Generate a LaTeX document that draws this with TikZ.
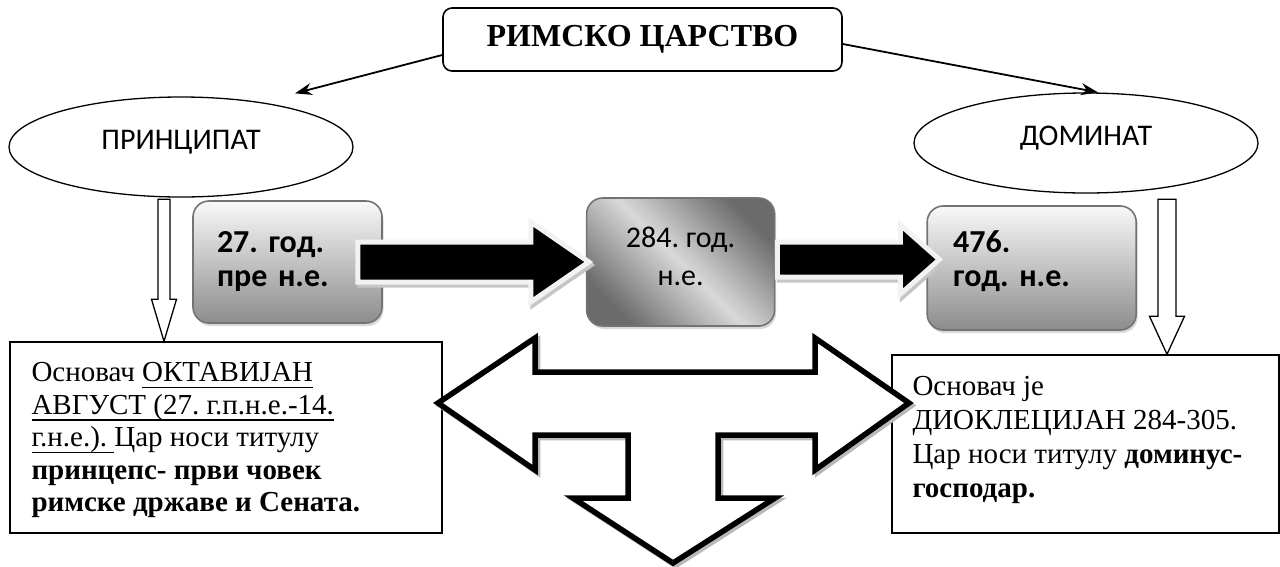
\documentclass[tikz,border=0pt]{standalone}
\usepackage{fontspec}
\setmainfont{Liberation Serif}
\newfontfamily\calibri{Carlito}
\newcommand\uln[1]{{\setbox0\hbox{#1}\rlap{\vrule width\wd0 height-5pt depth6.6pt}\box0}}
\usetikzlibrary{positioning, arrows.meta, shapes.geometric, shadows, calc}
\tikzset{>={Stealth[length=17pt, width=12pt]}, node distance = 2cm}

\begin{document}
\frenchspacing
\begin{tikzpicture}[x=1pt, y=-1pt,
    era/.style={draw, ellipse, line width=1.3pt, minimum width=344pt, minimum height=100pt, inner sep=0pt, text height=15pt, text depth=10pt, font=\calibri\fontsize{30}{34}\selectfont},
    yearbox/.style={draw=black!55, line width=1.6pt, rounded corners=16pt, inner sep=0pt, top color=gray!5, bottom color=black!45, drop shadow={shadow xshift=1.5pt, shadow yshift=-3pt, opacity=.3}, align=left, font=\calibri\bfseries\fontsize{32}{34}\selectfont},
    infobox/.style={draw, line width=1.4pt, fill=white},
    infotext/.style={anchor=north west, inner sep=0pt, align=left, font=\fontsize{29}{#1}\selectfont},
    link/.style={->, line width=1.8pt},
    fatarrow/.style={fill=black, draw=gray!10, line width=5pt, line join=miter, preaction={draw=gray!45, line width=5pt, transform canvas={shift={(2pt,-3pt)}}}},
    hollow/.style={draw, fill=white, line width=1.3pt, line join=miter},
    quad/.style={draw, fill=white, line width=5.5pt, line join=miter, preaction={draw=gray!55, line width=5.5pt, transform canvas={shift={(2.5pt,-2.5pt)}}}}]
    \useasboundingbox (0,0) rectangle (1280,566);

    \node[draw, line width=1.6pt, rounded corners=9pt, minimum width=399pt, minimum height=63pt, font=\bfseries\fontsize{32}{36}\selectfont] (rim) at (642.5,39.5) {РИМСКО ЦАРСТВО};
    \node[era] (pr) at (181,147) {ПРИНЦИПАТ};
    \node[era] (dom) at (1086,143) {ДОМИНАТ};

    \node[yearbox, minimum width=189pt, minimum height=122pt, text width=141pt] (y27) at (287.5,262) {27. год.\\пре н.е.};
    \node[yearbox, minimum width=188pt, minimum height=128pt, top color=black!58, bottom color=black!58, middle color=black!15, shading angle=-45, align=center, font=\calibri\fontsize{30}{38}\selectfont] (y284) [right=203pt of y27] {284. год.\\н.е.\rule[-11pt]{0pt}{1pt}};
    \node[yearbox, minimum width=209pt, minimum height=124pt, text width=157pt] (y476) [right=151pt of y284, yshift=-6pt] {476.\\год. н.е.\rule[-19pt]{0pt}{1pt}};

    \node[infobox, minimum width=432pt, minimum height=191pt] (okt) at (226,437.5) {};
    \node[infobox, minimum width=387pt, minimum height=178pt] (dio) at (1085.5,444) {};
    \node[infotext=32.5] (oktt) at ([xshift=22pt, yshift=-21pt]okt.north west) {Основач \uln{ОКТАВИЈАН}\\
        \uln{АВГУСТ (27. г.п.н.е.-14.}\\
        \uln{г.н.е.).\ }Цар носи титулу\\
        \textbf{принцепс- први човек}\\
        \textbf{римске државе и Сената.}};
    \node[infotext=34] (diot) at ([xshift=21pt, yshift=-22pt]dio.north west) {Основач је\\
        ДИОКЛЕЦИЈАН 284-305.\\
        Цар носи титулу \textbf{доминус-}\\
        \textbf{господар.}};

    \draw[link] ([yshift=-15.5pt]rim.west) -- ([xshift=114pt, yshift=3pt]pr.north);
    \draw[link] ([yshift=-4.5pt]rim.east) -- ([xshift=12pt]dom.north);

    \draw[fatarrow] ([xshift=-25pt, yshift=20pt]y27.east) -- ++(173,0) -- ++(0,-20) -- ++(58,40) -- ++(-58,40) -- ++(0,-20) -- ++(-173,0) -- cycle;
    \draw[fatarrow] ([xshift=2pt, yshift=20pt]y284.east) -- ++(123,0) -- ++(0,-17) -- ++(39,34.5) -- ++(-39,34.5) -- ++(0,-17) -- ++(-123,0) -- cycle;

    \draw[hollow] ([xshift=-62pt]okt.north) -- ++(-12.5,-42) -- ++(6.5,0) -- ++(0,-100) -- ++(12,0) -- ++(0,100) -- ++(6.5,0) -- cycle;
    \draw[hollow] ([xshift=81.5pt]dio.north) -- ++(-17.5,-38) -- ++(8.5,0) -- ++(0,-117) -- ++(18,0) -- ++(0,117) -- ++(8.5,0) -- cycle;

    \draw[quad] (438,403) -- (535,338) -- (535,372) -- (815,372) -- (815,338) -- (909,403) -- (815,470) -- (815,435) -- (718,435) -- (718,498) -- (775,498) -- (673,563) -- (573,498) -- (628,498) -- (628,435) -- (535,435) -- (535,470) -- cycle;
\end{tikzpicture}
\end{document}
